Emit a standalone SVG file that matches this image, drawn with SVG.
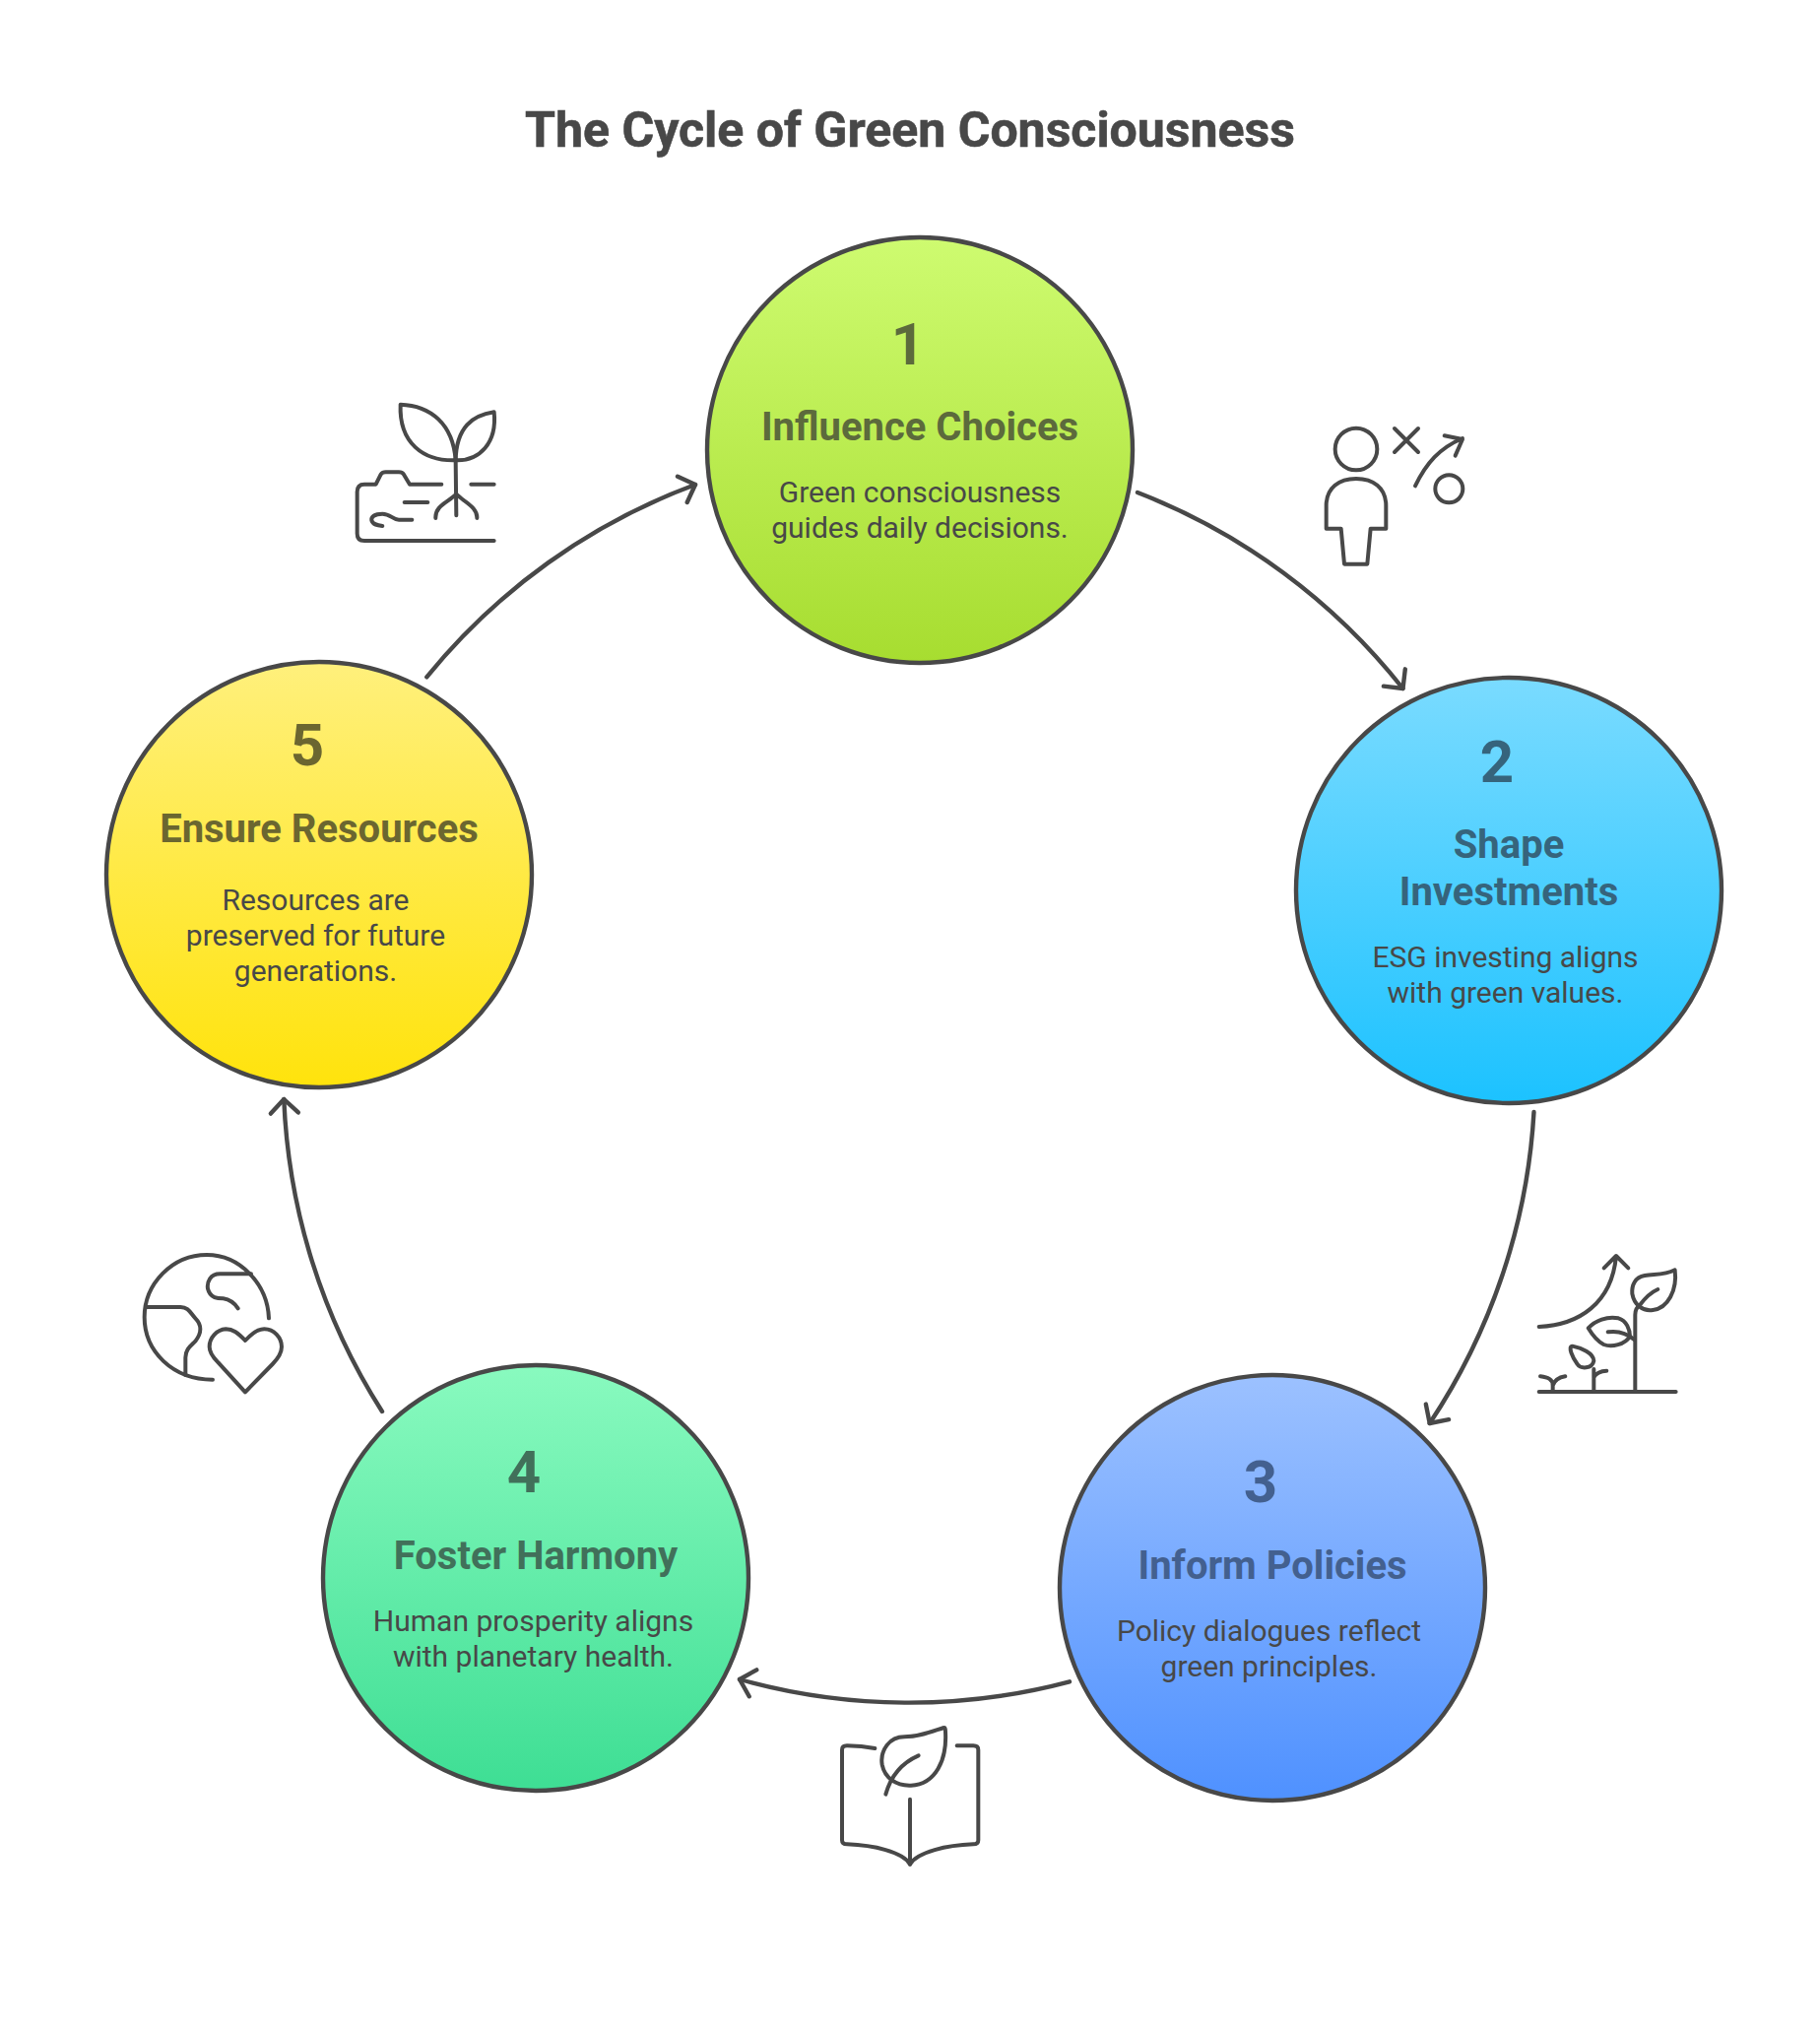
<svg xmlns="http://www.w3.org/2000/svg" width="1848" height="2064" viewBox="0 0 1848 2064">
<style>
text{font-family:Roboto,"Liberation Sans",sans-serif;text-anchor:middle}
.t{font-size:50px;font-weight:700;fill:#484848;stroke:#484848;stroke-width:.6px}
.n{font-size:60px;font-weight:700}
.h{font-size:40px;font-weight:700}
.b{font-size:30px;font-weight:400;fill:#484848}
.c{stroke:#484848;stroke-width:4.4}
.con{fill:none;stroke:#484848;stroke-width:4.4;stroke-linecap:round}
.i{fill:none;stroke:#484848;stroke-width:12;stroke-linecap:round;stroke-linejoin:round}
</style>
<defs>
<linearGradient id="g1" x1="0" y1="0" x2="0" y2="1"><stop offset="0" stop-color="#CEFB70"/><stop offset="1" stop-color="#A7DD30"/></linearGradient>
<linearGradient id="g2" x1="0" y1="0" x2="0" y2="1"><stop offset="0" stop-color="#7ADBFF"/><stop offset="1" stop-color="#1CC2FF"/></linearGradient>
<linearGradient id="g3" x1="0" y1="0" x2="0" y2="1"><stop offset="0" stop-color="#9CC1FF"/><stop offset="1" stop-color="#4F91FF"/></linearGradient>
<linearGradient id="g4" x1="0" y1="0" x2="0" y2="1"><stop offset="0" stop-color="#89FABF"/><stop offset="1" stop-color="#3EDE94"/></linearGradient>
<linearGradient id="g5" x1="0" y1="0" x2="0" y2="1"><stop offset="0" stop-color="#FFF07C"/><stop offset="1" stop-color="#FFE30C"/></linearGradient>
<marker id="ah" markerUnits="userSpaceOnUse" markerWidth="40" markerHeight="40" refX="20" refY="20" orient="auto"><path d="M6 6 L20 20 L6 34" fill="none" stroke="#484848" stroke-width="4.4" stroke-linecap="round" stroke-linejoin="round"/></marker>
</defs>
<rect width="1848" height="2064" fill="#fff"/>
<text class="t" x="924" y="149">The Cycle of Green Consciousness</text>
<g id="connectors">
<path class="con" marker-end="url(#ah)" d="M1155 500 A636 636 0 0 1 1424.5 699"/>
<path class="con" marker-end="url(#ah)" d="M1557.5 1129 A636 636 0 0 1 1451.7 1445"/>
<path class="con" marker-end="url(#ah)" d="M1086 1707.3 A636 636 0 0 1 751 1705"/>
<path class="con" marker-end="url(#ah)" d="M388 1433 A636 636 0 0 1 288.3 1116"/>
<path class="con" marker-end="url(#ah)" d="M433.3 687.3 A636 636 0 0 1 706 492"/>
</g>
<g id="node1"><circle class="c" cx="934" cy="457" r="216" fill="url(#g1)"/>
<text class="n" x="922" y="370" fill="#5C6A3C">1</text>
<text class="h" x="934" y="447" fill="#5C6A3C">Influence Choices</text>
<text class="b" x="934" y="510">Green consciousness</text><text class="b" x="934" y="546">guides daily decisions.</text></g>
<g id="node2"><circle class="c" cx="1532" cy="904" r="216" fill="url(#g2)"/>
<text class="n" x="1520" y="793.5" fill="#36647C">2</text>
<text class="h" x="1532" y="871" fill="#36647C">Shape</text><text class="h" x="1532" y="919" fill="#36647C">Investments</text>
<text class="b" x="1528.5" y="981.5">ESG investing aligns</text><text class="b" x="1528.5" y="1017.5">with green values.</text></g>
<g id="node3"><circle class="c" cx="1292" cy="1612" r="216" fill="url(#g3)"/>
<text class="n" x="1280" y="1525" fill="#43608F">3</text>
<text class="h" x="1292" y="1602.5" fill="#43608F">Inform Policies</text>
<text class="b" x="1288.5" y="1665.5">Policy dialogues reflect</text><text class="b" x="1288.5" y="1701.5">green principles.</text></g>
<g id="node4"><circle class="c" cx="544" cy="1602" r="216" fill="url(#g4)"/>
<text class="n" x="532" y="1515" fill="#41705A">4</text>
<text class="h" x="544" y="1592.5" fill="#41705A">Foster Harmony</text>
<text class="b" x="541.5" y="1656">Human prosperity aligns</text><text class="b" x="541.5" y="1692">with planetary health.</text></g>
<g id="node5"><circle class="c" cx="324" cy="888" r="216" fill="url(#g5)"/>
<text class="n" x="312" y="777" fill="#6B6630">5</text>
<text class="h" x="324" y="855" fill="#6B6630">Ensure Resources</text>
<text class="b" x="320.5" y="924">Resources are</text><text class="b" x="320.5" y="960">preserved for future</text><text class="b" x="320.5" y="996">generations.</text></g>
<g id="icon-plant" class="i" transform="translate(340 390) scale(.3333)">
<path d="M200 62C290 65 360 120 368 232C270 235 195 180 200 62Z"/><path d="M485 85C420 95 370 130 368 232C440 235 495 180 485 85Z"/><path d="M368 232L370 400"/><path d="M370 335C345 360 305 370 307 408M370 335C395 360 435 375 433 408"/><path d="M485 305H415M325 305H228L210 275Q205 268 195 268H155Q145 268 140 275L125 305H90Q68 305 68 328V455Q68 477 90 477H485"/><path d="M212 360H283"/><path d="M235 413H195C175 413 170 395 145 395C120 395 110 405 112 415C115 428 130 430 145 432"/></g>
<g id="icon-person" class="i" transform="translate(1320 410) scale(.3333)">
<circle cx="171" cy="138" r="64"/><circle cx="454" cy="259" r="42"/><path d="M288 75L360 147M360 75L288 147"/><path d="M351 250C385 180 425 135 495 105M440 97L495 108L473 158"/><path d="M80 380V310C80 255 120 228 171 228C222 228 262 255 262 310V380H215L205 488H135L125 380Z"/></g>
<g id="icon-growth" class="i" transform="translate(1540 1250) scale(.3333)">
<path d="M68 489H485"/><path d="M68 291C190 285 290 220 303 75M266 112L303 75L340 112"/><path d="M361 489V255Q361 235 375 225C390 205 405 188 430 177"/><path d="M482 118C450 135 420 130 390 135C360 140 350 165 352 190C358 225 385 245 415 240C460 235 490 180 482 118Z"/><path d="M218 295C240 272 275 258 310 265C335 272 345 300 345 320C330 345 290 355 265 345C245 335 230 315 218 295Z"/><path d="M278 307C305 303 335 310 358 330"/><path d="M170 350C195 355 235 370 235 395C230 420 195 420 185 405C170 385 155 350 170 350Z"/><path d="M235 420V489M235 445C240 435 255 425 274 425"/><path d="M110 489V470C110 450 95 445 72 442M110 470C115 455 130 445 148 442"/></g>
<g id="icon-book" class="i" transform="translate(830 1730) scale(.3333)">
<path d="M175 135C140 128 110 127 90 127Q75 127 75 140V415Q75 427 90 427C170 430 260 450 282 488C305 450 395 430 475 427Q490 427 490 415V140Q490 127 475 127H425"/><path d="M282 290V488"/><path d="M385 72C345 85 310 100 265 100C220 100 190 140 197 185C205 225 240 250 285 248C360 245 395 170 390 85Q390 70 385 72Z"/><path d="M208 275C222 225 255 180 308 157"/></g>
<g id="icon-earth" class="i" transform="translate(130 1250) scale(.3333)">
<path d="M429 265C425 160 340 72 240 72C135 72 50 160 50 262C50 365 135 452 258 452"/><path d="M55 231H160C185 231 190 250 205 265C225 285 225 310 205 335C190 350 175 360 175 385V438"/><path d="M375 130H280C250 130 240 155 243 175C250 205 275 205 290 205C310 208 325 220 335 235"/><path d="M357 333C335 310 320 298 298 298C270 300 248 325 248 352C248 375 265 390 275 400L357 490L440 405C455 390 468 375 468 352C468 325 445 298 415 298C395 298 378 310 357 333Z"/></g>
</svg>
